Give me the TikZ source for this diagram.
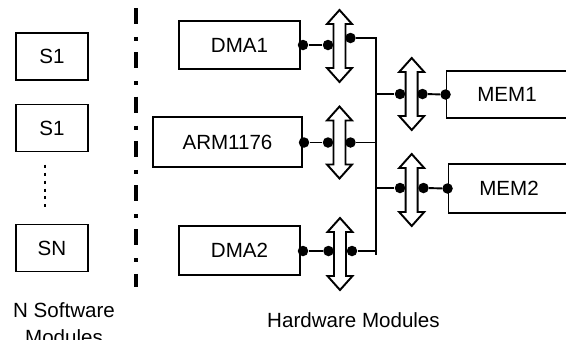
\documentclass[tikz,border=0pt]{standalone}
\usepackage{fontspec}
\setmainfont{Liberation Sans}

\begin{document}
\begin{tikzpicture}[
    x=0.02cm, y=-0.02cm,
    every node/.style={font=\fontsize{11.7}{13.6}\selectfont},
    module/.style={
      draw, line width=1.1pt, minimum width=2.42cm, minimum height=0.96cm,
      inner sep=0pt, anchor=center
    },
    swmod/.style={module, minimum width=1.44cm, minimum height=0.94cm},
    pics/busarrow/.style={
      code={
        \draw[line width=1.1pt, fill=white, line join=miter]
          (0,-36) -- (12.5,-22) -- (6,-22) -- (6,22) -- (12.5,22) -- (0,36)
          -- (-12.5,22) -- (-6,22) -- (-6,-22) -- (-12.5,-22) -- cycle;
      }
    },
    port/.style={circle, fill, inner sep=0pt, minimum size=0.21cm},
    wire/.style={line width=1.1pt},
    grplabel/.style={align=center, anchor=base, font=\fontsize{11.7}{15.3}\selectfont},
  ]
  \useasboundingbox (0,0) rectangle (566,339);
  \clip (0,0) rectangle (566,339);

  % --- Software side ---
  \foreach \y/\t/\n in {56.5/S1/s1, 128/S1/s2, 248/SN/sn} {
    \node[swmod] (\n) at (52,\y) {\t};
  }
  \coordinate (gapTop) at (45,164.5);
  \coordinate (gapBot) at (45,209);
  \draw[line width=0.06cm, dash pattern=on 0.06cm off 0.1cm] (gapTop) -- (gapBot);
  \node[grplabel] (swlabel) at (64,344) {N Software\\Modules};

  % Separator
  \coordinate (sepTop) at (136,8);
  \coordinate (sepBot) at (136,287);
  \draw[line width=0.08cm, dash pattern=on 0.32cm off 0.26cm on 0.08cm off 0.226cm]
    (sepTop) -- (sepBot);

  % --- Hardware masters ---
  \node[module] (dma1) at (239.5,45) {DMA1};
  \node[module, minimum width=2.98cm, minimum height=1cm] (arm) at (227.5,142) {ARM1176};
  \node[module, minimum height=0.98cm] (dma2) at (239.5,250.5) {DMA2};

  \pic (b1) at (339.5,46) {busarrow};
  \pic (b2) at (339.5,142.5) {busarrow};
  \pic (b3) at (340,254) {busarrow};

  % ports: a = module side, b/c = either side of the bus arrow
  \node[port] (p1a) at (303,45) {};
  \node[port] (p1b) at (328,45) {};
  \node[port] (p1c) at (350.5,38) {};
  \node[port] (p2a) at (304,142.5) {};
  \node[port] (p2b) at (328,142.5) {};
  \node[port] (p2c) at (350.5,142.5) {};
  \node[port] (p3a) at (303,251) {};
  \node[port] (p3b) at (328.5,251) {};
  \node[port] (p3c) at (352,251) {};

  \foreach \i in {1,2,3} {
    \draw[wire] (p\i a) -- (p\i b);
  }

  % Shared bus
  \coordinate (busTop) at (376,38);
  \coordinate (busBot) at (376,255);
  \coordinate (tap1) at (376,142.5);
  \coordinate (tap2) at (376,251);
  \coordinate (tap3) at (376,94);
  \coordinate (tap4) at (376,188);
  \draw[wire] (p1c) -- (busTop) -- (busBot);
  \draw[wire] (p2c) -- (tap1);
  \draw[wire] (p3c) -- (tap2);

  % --- Memories ---
  \node[module, minimum height=0.94cm] (mem1) at (507,94.5) {MEM1};
  \node[module, minimum height=0.98cm] (mem2) at (509,188.5) {MEM2};

  \pic (b4) at (411.7,94) {busarrow};
  \pic (b5) at (411.7,190) {busarrow};

  \node[port] (p4a) at (400,94) {};
  \node[port] (p4b) at (422.5,94) {};
  \node[port] (p4c) at (mem1.west) {};
  \node[port] (p5a) at (400,188) {};
  \node[port] (p5b) at (423.5,188) {};
  \node[port] (p5c) at (mem2.west) {};

  \draw[wire] (tap3) -- (p4a);
  \draw[wire] (p4b) -- (p4c);
  \draw[wire] (tap4) -- (p5a);
  \draw[wire] (p5b) -- (p5c);

  \node[grplabel] (hwlabel) at (353.5,327) {Hardware Modules};
\end{tikzpicture}
\end{document}
